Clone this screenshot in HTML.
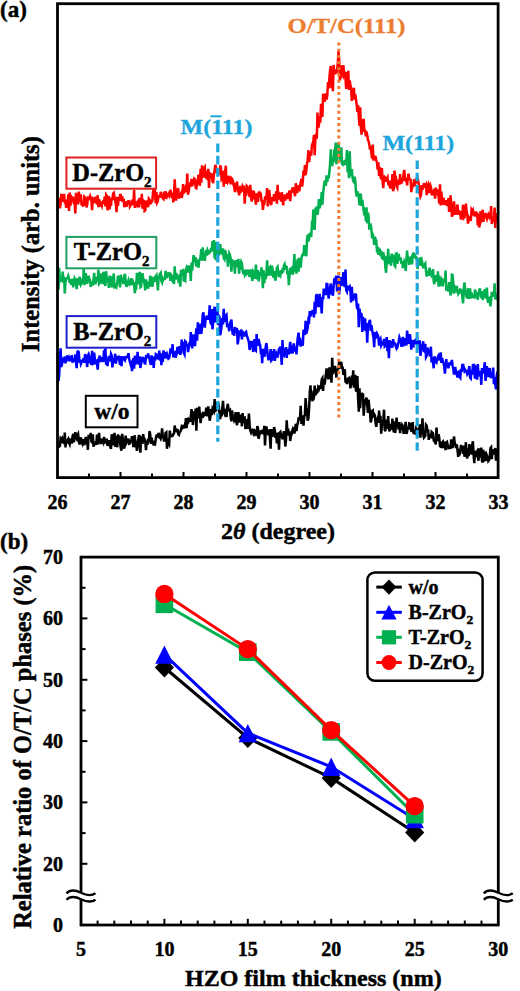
<!DOCTYPE html><html><head><meta charset="utf-8"><style>
html,body{margin:0;padding:0;background:#fff;overflow:hidden;width:520px;height:991px;}
svg{display:block;}
text{font-family:"Liberation Serif",serif;font-weight:bold;stroke:currentColor;stroke-width:0.45px;}
</style></head><body>
<svg width="520" height="991" viewBox="0 0 520 991">
<polyline fill="none" stroke="#000" stroke-width="2.5" stroke-linejoin="miter" points="58.5,440.9 59.2,446.6 59.9,446.0 60.6,438.4 61.3,439.3 62.0,438.3 62.7,443.1 63.4,440.4 64.1,443.9 64.8,432.5 65.5,447.5 66.2,440.2 66.9,443.6 67.6,440.0 68.3,438.9 69.0,442.6 69.7,444.2 70.4,439.7 71.1,439.9 71.8,443.6 72.5,436.8 73.2,433.9 73.9,442.3 74.6,437.6 75.3,432.1 76.0,437.0 76.7,438.5 77.4,435.3 78.1,434.0 78.8,440.8 79.5,444.6 80.2,439.6 80.9,437.3 81.6,442.3 82.3,443.8 83.0,439.3 83.7,443.0 84.4,445.2 85.1,439.7 85.8,437.0 86.5,442.1 87.2,441.7 87.9,449.8 88.6,434.9 89.3,437.7 90.0,436.9 90.7,432.9 91.4,441.2 92.1,442.9 92.8,434.4 93.5,446.7 94.2,444.2 94.9,443.4 95.6,442.4 96.3,444.8 97.0,434.7 97.7,443.3 98.4,443.3 99.1,432.8 99.8,442.1 100.5,439.5 101.2,444.1 101.9,438.7 102.6,440.6 103.3,442.3 104.0,436.9 104.7,443.5 105.4,440.4 106.1,443.1 106.8,438.6 107.5,445.8 108.2,443.7 108.9,440.2 109.6,443.8 110.3,446.7 111.0,449.0 111.7,434.2 112.4,445.1 113.1,443.3 113.8,440.8 114.5,432.8 115.2,446.9 115.9,435.8 116.6,443.9 117.3,447.2 118.0,434.4 118.7,440.1 119.4,435.7 120.1,442.6 120.8,448.3 121.5,450.6 122.2,433.8 122.9,439.1 123.6,444.8 124.3,448.7 125.0,443.6 125.7,435.5 126.4,443.1 127.1,441.8 127.8,441.0 128.5,438.7 129.2,443.7 129.9,443.4 130.6,441.5 131.3,440.9 132.0,436.2 132.7,439.7 133.4,447.1 134.1,440.1 134.8,435.3 135.5,447.5 136.2,443.9 136.9,450.9 137.6,441.7 138.3,439.4 139.0,434.9 139.7,447.2 140.4,452.7 141.1,437.6 141.8,438.3 142.5,443.8 143.2,434.1 143.9,439.8 144.6,439.4 145.3,441.8 146.0,450.2 146.7,440.9 147.4,444.9 148.1,438.9 148.8,442.1 149.5,431.1 150.2,434.1 150.9,443.9 151.6,437.5 152.3,442.5 153.0,442.2 153.7,445.5 154.4,443.0 155.1,443.7 155.8,438.4 156.5,435.5 157.2,435.2 157.9,436.1 158.6,432.9 159.3,435.4 160.0,437.2 160.7,438.6 161.4,435.7 162.1,428.3 162.8,436.2 163.5,437.7 164.2,441.4 164.9,438.9 165.6,433.0 166.3,432.4 167.0,448.8 167.7,438.7 168.4,443.4 169.1,444.5 169.8,430.6 170.5,435.9 171.2,436.0 171.9,436.2 172.6,435.8 173.3,434.0 174.0,433.6 174.7,425.5 175.4,431.5 176.1,428.5 176.8,432.3 177.5,429.2 178.2,434.1 178.9,434.8 179.6,432.1 180.3,431.7 181.0,429.9 181.7,426.6 182.4,427.3 183.1,425.0 183.8,428.5 184.5,426.0 185.2,428.1 185.9,418.0 186.6,428.2 187.3,419.4 188.0,418.8 188.7,420.7 189.4,418.2 190.1,421.8 190.8,417.0 191.5,409.2 192.2,414.6 192.9,425.0 193.6,418.1 194.3,411.5 195.0,417.0 195.7,408.5 196.4,430.8 197.1,407.7 197.8,417.5 198.5,417.3 199.2,406.6 199.9,415.1 200.6,423.2 201.3,415.7 202.0,414.5 202.7,417.9 203.4,413.8 204.1,414.5 204.8,412.0 205.5,415.8 206.2,407.6 206.9,416.4 207.6,409.6 208.3,406.4 209.0,413.9 209.7,420.7 210.4,416.7 211.1,409.0 211.8,415.2 212.5,409.1 213.2,410.7 213.9,411.7 214.6,399.1 215.3,412.1 216.0,405.6 216.7,407.2 217.4,403.1 218.1,402.7 218.8,405.6 219.5,414.8 220.2,419.2 220.9,410.4 221.6,416.3 222.3,408.1 223.0,400.8 223.7,411.7 224.4,413.3 225.1,408.9 225.8,412.8 226.5,417.0 227.2,406.9 227.9,403.8 228.6,410.4 229.3,410.6 230.0,410.0 230.7,417.2 231.4,421.4 232.1,410.5 232.8,416.6 233.5,418.1 234.2,420.6 234.9,419.3 235.6,412.1 236.3,421.7 237.0,425.2 237.7,419.2 238.4,412.1 239.1,418.7 239.8,422.4 240.5,418.5 241.2,414.7 241.9,426.3 242.6,413.1 243.3,422.8 244.0,421.1 244.7,416.2 245.4,429.1 246.1,425.7 246.8,419.1 247.5,428.7 248.2,424.6 248.9,413.5 249.6,425.1 250.3,430.4 251.0,432.4 251.7,430.3 252.4,429.9 253.1,432.2 253.8,429.1 254.5,436.0 255.2,431.3 255.9,432.2 256.6,433.6 257.3,426.1 258.0,428.0 258.7,438.9 259.4,434.9 260.1,430.7 260.8,433.9 261.5,430.1 262.2,434.0 262.9,429.7 263.6,434.4 264.3,425.8 265.0,445.4 265.7,431.2 266.4,426.4 267.1,433.0 267.8,432.5 268.5,435.2 269.2,429.3 269.9,436.7 270.6,448.6 271.3,429.1 272.0,436.8 272.7,433.8 273.4,436.3 274.1,427.0 274.8,430.2 275.5,437.8 276.2,435.6 276.9,443.5 277.6,432.7 278.3,436.9 279.0,449.7 279.7,432.7 280.4,431.9 281.1,435.7 281.8,435.3 282.5,439.2 283.2,435.5 283.9,431.1 284.6,435.3 285.3,446.5 286.0,439.8 286.7,420.2 287.4,432.4 288.1,428.6 288.8,435.5 289.5,431.4 290.2,441.0 290.9,435.5 291.6,434.5 292.3,430.4 293.0,428.5 293.7,429.6 294.4,433.5 295.1,429.0 295.8,423.9 296.5,431.2 297.2,425.0 297.9,422.9 298.6,418.6 299.3,418.9 300.0,417.8 300.7,405.7 301.4,424.0 302.1,420.5 302.8,415.4 303.5,425.7 304.2,416.6 304.9,415.1 305.6,398.1 306.3,407.9 307.0,409.9 307.7,420.6 308.4,418.6 309.1,408.6 309.8,392.2 310.5,385.3 311.2,400.2 311.9,396.6 312.6,401.2 313.3,394.5 314.0,395.9 314.7,385.6 315.4,395.6 316.1,389.3 316.8,392.6 317.5,392.0 318.2,387.5 318.9,388.8 319.6,385.6 320.3,389.0 321.0,386.5 321.7,379.4 322.4,378.2 323.1,391.0 323.8,379.1 324.5,384.6 325.2,380.2 325.9,374.0 326.6,368.4 327.3,377.2 328.0,377.5 328.7,379.2 329.4,367.4 330.1,370.9 330.8,373.1 331.5,382.6 332.2,357.8 332.9,374.0 333.6,367.3 334.3,372.4 335.0,366.0 335.7,370.7 336.4,377.5 337.1,369.5 337.8,369.4 338.5,368.5 339.2,361.0 339.9,368.5 340.6,364.6 341.3,362.0 342.0,367.8 342.7,367.8 343.4,374.9 344.1,371.1 344.8,369.2 345.5,382.5 346.2,381.0 346.9,384.0 347.6,381.3 348.3,378.4 349.0,377.9 349.7,380.1 350.4,388.3 351.1,384.2 351.8,375.7 352.5,384.9 353.2,370.2 353.9,387.7 354.6,380.6 355.3,374.7 356.0,390.6 356.7,390.8 357.4,376.1 358.1,398.3 358.8,411.7 359.5,388.4 360.2,408.1 360.9,394.9 361.6,394.3 362.3,399.4 363.0,393.2 363.7,415.6 364.4,405.5 365.1,399.5 365.8,401.8 366.5,397.5 367.2,404.9 367.9,412.9 368.6,399.7 369.3,407.6 370.0,411.8 370.7,422.4 371.4,419.8 372.1,411.1 372.8,410.5 373.5,417.6 374.2,414.1 374.9,415.3 375.6,423.1 376.3,426.8 377.0,420.0 377.7,418.2 378.4,422.7 379.1,410.6 379.8,420.7 380.5,415.8 381.2,433.6 381.9,425.4 382.6,422.7 383.3,421.2 384.0,409.7 384.7,429.6 385.4,431.2 386.1,419.5 386.8,426.9 387.5,427.3 388.2,416.1 388.9,428.9 389.6,431.3 390.3,426.0 391.0,425.0 391.7,429.7 392.4,418.5 393.1,427.2 393.8,432.4 394.5,421.5 395.2,432.9 395.9,425.9 396.6,417.7 397.3,427.5 398.0,423.2 398.7,429.6 399.4,422.2 400.1,433.2 400.8,424.3 401.5,429.8 402.2,425.1 402.9,426.4 403.6,433.9 404.3,429.1 405.0,426.0 405.7,421.9 406.4,433.9 407.1,431.9 407.8,426.7 408.5,429.7 409.2,423.4 409.9,423.6 410.6,424.6 411.3,430.6 412.0,430.4 412.7,422.0 413.4,432.7 414.1,433.1 414.8,430.1 415.5,434.5 416.2,428.2 416.9,429.2 417.6,432.3 418.3,429.9 419.0,434.2 419.7,424.3 420.4,437.6 421.1,426.9 421.8,430.1 422.5,418.3 423.2,434.2 423.9,437.7 424.6,436.8 425.3,436.0 426.0,424.8 426.7,425.7 427.4,431.2 428.1,429.4 428.8,439.9 429.5,435.8 430.2,435.3 430.9,438.3 431.6,431.9 432.3,432.6 433.0,433.3 433.7,440.3 434.4,441.5 435.1,441.7 435.8,444.4 436.5,427.5 437.2,437.3 437.9,441.0 438.6,434.3 439.3,438.5 440.0,446.0 440.7,446.8 441.4,447.0 442.1,442.5 442.8,441.7 443.5,448.0 444.2,441.6 444.9,445.2 445.6,450.1 446.3,442.6 447.0,441.9 447.7,445.0 448.4,448.1 449.1,447.9 449.8,446.7 450.5,448.9 451.2,439.4 451.9,443.1 452.6,448.1 453.3,443.5 454.0,436.5 454.7,442.9 455.4,444.5 456.1,448.0 456.8,444.4 457.5,450.2 458.2,456.9 458.9,448.8 459.6,455.3 460.3,451.1 461.0,445.0 461.7,449.0 462.4,446.0 463.1,453.9 463.8,445.6 464.5,456.7 465.2,453.6 465.9,442.2 466.6,454.8 467.3,458.4 468.0,448.2 468.7,456.2 469.4,444.1 470.1,453.3 470.8,445.0 471.5,454.6 472.2,444.8 472.9,441.2 473.6,454.7 474.3,463.2 475.0,450.7 475.7,457.0 476.4,453.9 477.1,452.0 477.8,456.2 478.5,460.8 479.2,448.2 479.9,456.2 480.6,455.3 481.3,447.5 482.0,461.0 482.7,462.5 483.4,449.8 484.1,461.7 484.8,454.3 485.5,453.4 486.2,460.8 486.9,455.3 487.6,457.0 488.3,461.0 489.0,460.1 489.7,458.4 490.4,448.3 491.1,447.4 491.8,459.1 492.5,450.0 493.2,454.6 493.9,449.1 494.6,452.9 495.3,448.0 496.0,460.6 496.7,448.9 497.4,452.8"/>
<polyline fill="none" stroke="#0000ff" stroke-width="2.5" stroke-linejoin="miter" points="58.5,381.0 59.2,375.0 59.9,357.2 60.6,348.3 61.3,366.9 62.0,364.0 62.7,357.6 63.4,362.4 64.1,360.2 64.8,356.6 65.5,363.3 66.2,357.6 66.9,357.6 67.6,355.5 68.3,361.0 69.0,358.6 69.7,361.4 70.4,356.3 71.1,359.6 71.8,355.1 72.5,362.7 73.2,359.8 73.9,360.5 74.6,360.8 75.3,354.5 76.0,362.5 76.7,368.1 77.4,351.8 78.1,351.4 78.8,352.3 79.5,362.7 80.2,359.6 80.9,363.8 81.6,362.2 82.3,360.8 83.0,360.3 83.7,358.2 84.4,362.8 85.1,354.0 85.8,357.1 86.5,360.1 87.2,367.0 87.9,355.6 88.6,354.2 89.3,356.5 90.0,363.3 90.7,358.0 91.4,364.9 92.1,350.7 92.8,364.0 93.5,363.6 94.2,352.7 94.9,359.7 95.6,364.4 96.3,359.4 97.0,363.4 97.7,369.6 98.4,360.2 99.1,357.8 99.8,355.6 100.5,361.9 101.2,358.2 101.9,358.3 102.6,358.6 103.3,362.0 104.0,350.2 104.7,352.4 105.4,348.4 106.1,364.6 106.8,359.6 107.5,366.0 108.2,359.3 108.9,356.1 109.6,361.5 110.3,359.1 111.0,353.9 111.7,355.5 112.4,367.4 113.1,361.1 113.8,361.4 114.5,358.4 115.2,353.8 115.9,363.6 116.6,359.2 117.3,356.3 118.0,359.1 118.7,355.7 119.4,360.6 120.1,364.8 120.8,356.1 121.5,366.2 122.2,356.9 122.9,360.6 123.6,356.2 124.3,359.0 125.0,360.2 125.7,358.1 126.4,356.9 127.1,357.1 127.8,356.5 128.5,353.2 129.2,359.0 129.9,362.0 130.6,364.3 131.3,363.1 132.0,371.2 132.7,361.7 133.4,358.3 134.1,368.7 134.8,355.7 135.5,364.7 136.2,356.2 136.9,362.1 137.6,351.8 138.3,364.5 139.0,359.9 139.7,356.3 140.4,368.0 141.1,363.8 141.8,360.5 142.5,356.9 143.2,359.9 143.9,359.3 144.6,363.2 145.3,363.4 146.0,356.7 146.7,357.2 147.4,357.1 148.1,353.4 148.8,356.7 149.5,358.8 150.2,362.2 150.9,365.0 151.6,355.3 152.3,361.3 153.0,356.7 153.7,368.0 154.4,358.3 155.1,360.7 155.8,354.1 156.5,354.5 157.2,359.0 157.9,356.3 158.6,359.5 159.3,350.7 160.0,360.7 160.7,353.4 161.4,365.1 162.1,355.8 162.8,361.9 163.5,350.3 164.2,358.5 164.9,352.2 165.6,353.9 166.3,356.0 167.0,354.2 167.7,356.7 168.4,358.7 169.1,358.1 169.8,354.5 170.5,348.4 171.2,350.8 171.9,353.4 172.6,344.2 173.3,357.4 174.0,352.6 174.7,352.3 175.4,357.6 176.1,355.8 176.8,353.2 177.5,347.0 178.2,352.7 178.9,352.4 179.6,346.1 180.3,354.8 181.0,351.8 181.7,339.5 182.4,349.0 183.1,341.9 183.8,353.0 184.5,354.4 185.2,341.2 185.9,341.8 186.6,346.1 187.3,344.0 188.0,352.1 188.7,347.8 189.4,342.3 190.1,346.0 190.8,332.1 191.5,342.7 192.2,348.4 192.9,337.4 193.6,334.6 194.3,340.0 195.0,346.1 195.7,336.2 196.4,328.4 197.1,340.6 197.8,322.4 198.5,333.8 199.2,327.1 199.9,334.0 200.6,323.5 201.3,333.8 202.0,327.1 202.7,315.0 203.4,312.4 204.1,320.1 204.8,327.7 205.5,320.1 206.2,318.5 206.9,315.6 207.6,319.8 208.3,317.2 209.0,316.9 209.7,305.2 210.4,322.4 211.1,323.6 211.8,309.1 212.5,329.3 213.2,320.8 213.9,314.3 214.6,306.7 215.3,321.2 216.0,320.9 216.7,314.8 217.4,308.6 218.1,324.9 218.8,315.8 219.5,316.7 220.2,335.2 220.9,331.6 221.6,325.5 222.3,318.1 223.0,324.4 223.7,308.7 224.4,322.0 225.1,317.7 225.8,315.7 226.5,314.9 227.2,327.1 227.9,325.5 228.6,326.7 229.3,331.2 230.0,323.0 230.7,321.8 231.4,319.7 232.1,328.2 232.8,334.7 233.5,330.8 234.2,335.7 234.9,327.0 235.6,331.2 236.3,330.1 237.0,328.0 237.7,344.4 238.4,339.6 239.1,331.7 239.8,332.1 240.5,336.1 241.2,329.4 241.9,339.5 242.6,331.0 243.3,336.1 244.0,333.2 244.7,336.4 245.4,332.5 246.1,331.8 246.8,335.4 247.5,337.4 248.2,339.8 248.9,342.2 249.6,350.0 250.3,346.9 251.0,340.9 251.7,347.4 252.4,340.9 253.1,352.0 253.8,348.1 254.5,339.2 255.2,350.0 255.9,350.7 256.6,334.0 257.3,343.9 258.0,345.6 258.7,338.9 259.4,343.6 260.1,344.6 260.8,352.0 261.5,351.4 262.2,363.1 262.9,348.9 263.6,356.7 264.3,352.0 265.0,353.3 265.7,346.6 266.4,343.1 267.1,348.8 267.8,356.2 268.5,360.3 269.2,355.7 269.9,355.4 270.6,349.1 271.3,360.6 272.0,359.8 272.7,351.0 273.4,353.5 274.1,349.1 274.8,360.9 275.5,356.0 276.2,353.8 276.9,356.3 277.6,356.6 278.3,352.7 279.0,348.9 279.7,348.9 280.4,346.6 281.1,356.7 281.8,364.8 282.5,340.1 283.2,354.3 283.9,355.2 284.6,348.3 285.3,353.6 286.0,347.1 286.7,357.8 287.4,348.9 288.1,351.9 288.8,354.4 289.5,348.7 290.2,341.8 290.9,347.5 291.6,353.5 292.3,349.0 293.0,350.2 293.7,343.4 294.4,349.0 295.1,351.4 295.8,346.6 296.5,354.5 297.2,342.6 297.9,336.9 298.6,332.6 299.3,345.3 300.0,337.7 300.7,346.7 301.4,340.0 302.1,342.7 302.8,345.6 303.5,329.7 304.2,331.9 304.9,335.0 305.6,320.9 306.3,333.7 307.0,330.8 307.7,327.9 308.4,319.7 309.1,320.8 309.8,311.2 310.5,316.5 311.2,311.8 311.9,314.5 312.6,310.0 313.3,313.3 314.0,317.4 314.7,301.9 315.4,313.9 316.1,296.1 316.8,294.2 317.5,305.3 318.2,305.2 318.9,306.9 319.6,293.8 320.3,302.0 321.0,301.6 321.7,313.5 322.4,297.1 323.1,299.4 323.8,288.7 324.5,292.0 325.2,289.0 325.9,295.2 326.6,284.0 327.3,284.1 328.0,292.0 328.7,298.7 329.4,289.1 330.1,287.9 330.8,283.5 331.5,292.2 332.2,291.5 332.9,295.7 333.6,286.6 334.3,278.3 335.0,280.4 335.7,277.7 336.4,275.9 337.1,291.5 337.8,288.5 338.5,275.5 339.2,294.4 339.9,285.9 340.6,277.2 341.3,286.0 342.0,283.4 342.7,279.2 343.4,272.2 344.1,284.9 344.8,286.8 345.5,269.6 346.2,290.1 346.9,291.5 347.6,285.7 348.3,290.3 349.0,287.3 349.7,286.4 350.4,290.6 351.1,302.4 351.8,286.8 352.5,298.4 353.2,300.5 353.9,295.6 354.6,296.2 355.3,294.3 356.0,294.6 356.7,305.8 357.4,309.2 358.1,303.6 358.8,327.2 359.5,308.6 360.2,314.2 360.9,313.7 361.6,314.3 362.3,332.0 363.0,316.9 363.7,328.6 364.4,329.0 365.1,318.4 365.8,331.1 366.5,323.1 367.2,342.8 367.9,327.1 368.6,325.4 369.3,321.5 370.0,319.9 370.7,331.0 371.4,325.2 372.1,329.9 372.8,333.8 373.5,337.5 374.2,347.1 374.9,332.0 375.6,338.2 376.3,336.3 377.0,333.6 377.7,335.0 378.4,337.1 379.1,345.6 379.8,341.1 380.5,339.5 381.2,345.5 381.9,344.0 382.6,341.6 383.3,344.9 384.0,338.8 384.7,346.4 385.4,345.7 386.1,341.2 386.8,337.1 387.5,351.1 388.2,343.8 388.9,358.1 389.6,340.0 390.3,347.7 391.0,341.1 391.7,344.6 392.4,347.6 393.1,339.2 393.8,342.8 394.5,344.1 395.2,343.9 395.9,346.4 396.6,348.6 397.3,347.6 398.0,344.6 398.7,341.5 399.4,337.5 400.1,339.5 400.8,340.6 401.5,346.8 402.2,341.4 402.9,336.9 403.6,346.5 404.3,339.2 405.0,339.4 405.7,342.0 406.4,345.5 407.1,330.6 407.8,337.2 408.5,343.7 409.2,340.9 409.9,334.2 410.6,339.8 411.3,349.6 412.0,340.0 412.7,346.0 413.4,346.3 414.1,339.8 414.8,344.3 415.5,340.1 416.2,339.9 416.9,337.8 417.6,348.7 418.3,342.8 419.0,342.6 419.7,340.3 420.4,355.8 421.1,350.9 421.8,347.1 422.5,344.9 423.2,341.3 423.9,351.0 424.6,351.6 425.3,343.7 426.0,357.0 426.7,355.6 427.4,347.5 428.1,350.0 428.8,351.1 429.5,354.5 430.2,353.5 430.9,346.7 431.6,362.4 432.3,357.3 433.0,362.4 433.7,368.3 434.4,356.3 435.1,359.4 435.8,361.8 436.5,362.5 437.2,358.5 437.9,356.9 438.6,360.5 439.3,357.0 440.0,358.7 440.7,352.3 441.4,362.8 442.1,358.1 442.8,360.8 443.5,363.4 444.2,365.9 444.9,373.7 445.6,366.2 446.3,359.1 447.0,366.5 447.7,363.5 448.4,368.4 449.1,363.8 449.8,364.0 450.5,363.1 451.2,365.0 451.9,359.9 452.6,365.5 453.3,368.8 454.0,374.7 454.7,368.2 455.4,368.1 456.1,372.6 456.8,374.8 457.5,377.5 458.2,373.1 458.9,370.5 459.6,376.8 460.3,377.8 461.0,368.9 461.7,372.0 462.4,363.8 463.1,369.9 463.8,367.7 464.5,370.9 465.2,369.8 465.9,371.3 466.6,371.5 467.3,374.2 468.0,373.0 468.7,369.5 469.4,366.2 470.1,377.6 470.8,378.4 471.5,370.0 472.2,374.5 472.9,365.1 473.6,365.0 474.3,370.8 475.0,378.6 475.7,367.4 476.4,368.5 477.1,379.6 477.8,364.0 478.5,375.5 479.2,374.9 479.9,371.1 480.6,373.8 481.3,384.8 482.0,368.1 482.7,371.9 483.4,372.3 484.1,367.6 484.8,362.2 485.5,380.9 486.2,374.9 486.9,366.1 487.6,371.0 488.3,376.0 489.0,376.1 489.7,368.0 490.4,374.2 491.1,377.1 491.8,376.9 492.5,377.1 493.2,367.6 493.9,384.1 494.6,377.1 495.3,384.4 496.0,389.4 496.7,376.2 497.4,371.6"/>
<polyline fill="none" stroke="#00b050" stroke-width="2.5" stroke-linejoin="miter" points="58.5,289.6 59.2,267.8 59.9,282.4 60.6,278.1 61.3,278.6 62.0,279.7 62.7,271.7 63.4,279.6 64.1,276.8 64.8,293.4 65.5,281.6 66.2,279.0 66.9,278.2 67.6,277.7 68.3,275.9 69.0,278.9 69.7,282.7 70.4,279.5 71.1,284.8 71.8,278.9 72.5,280.7 73.2,287.4 73.9,283.0 74.6,278.4 75.3,279.8 76.0,283.0 76.7,289.1 77.4,279.4 78.1,279.5 78.8,285.0 79.5,276.7 80.2,279.3 80.9,284.5 81.6,283.2 82.3,281.0 83.0,283.6 83.7,268.1 84.4,285.1 85.1,276.4 85.8,273.2 86.5,281.8 87.2,283.7 87.9,278.6 88.6,275.8 89.3,280.7 90.0,280.4 90.7,286.8 91.4,283.9 92.1,281.5 92.8,285.5 93.5,279.7 94.2,272.8 94.9,283.2 95.6,283.2 96.3,279.6 97.0,277.1 97.7,281.6 98.4,269.5 99.1,283.7 99.8,282.8 100.5,273.3 101.2,280.9 101.9,276.4 102.6,284.1 103.3,271.7 104.0,276.7 104.7,283.9 105.4,285.9 106.1,271.2 106.8,278.6 107.5,282.3 108.2,278.2 108.9,288.0 109.6,275.6 110.3,282.5 111.0,276.3 111.7,287.3 112.4,280.9 113.1,279.4 113.8,273.5 114.5,288.6 115.2,284.5 115.9,284.5 116.6,286.2 117.3,282.8 118.0,275.8 118.7,277.7 119.4,277.7 120.1,287.4 120.8,274.8 121.5,278.7 122.2,280.0 122.9,282.4 123.6,284.0 124.3,275.9 125.0,273.8 125.7,281.5 126.4,286.9 127.1,284.9 127.8,282.5 128.5,280.2 129.2,282.9 129.9,280.6 130.6,285.3 131.3,278.2 132.0,282.3 132.7,281.3 133.4,284.2 134.1,283.7 134.8,293.1 135.5,288.5 136.2,288.5 136.9,272.8 137.6,280.4 138.3,279.2 139.0,284.3 139.7,271.9 140.4,287.2 141.1,286.6 141.8,275.9 142.5,273.3 143.2,277.9 143.9,281.6 144.6,284.2 145.3,290.4 146.0,279.4 146.7,284.4 147.4,281.6 148.1,288.7 148.8,284.0 149.5,286.7 150.2,275.6 150.9,279.5 151.6,276.6 152.3,286.9 153.0,283.0 153.7,278.6 154.4,277.8 155.1,281.9 155.8,276.5 156.5,275.3 157.2,281.6 157.9,290.5 158.6,278.1 159.3,276.6 160.0,273.7 160.7,272.8 161.4,281.1 162.1,282.5 162.8,278.5 163.5,279.8 164.2,278.7 164.9,278.7 165.6,270.9 166.3,275.6 167.0,278.1 167.7,273.9 168.4,273.2 169.1,273.4 169.8,275.5 170.5,280.8 171.2,274.9 171.9,275.9 172.6,280.2 173.3,279.3 174.0,284.0 174.7,266.4 175.4,279.7 176.1,273.1 176.8,275.6 177.5,278.5 178.2,279.3 178.9,283.1 179.6,274.2 180.3,286.7 181.0,271.3 181.7,271.6 182.4,275.6 183.1,268.8 183.8,281.4 184.5,279.9 185.2,280.7 185.9,269.8 186.6,267.7 187.3,269.9 188.0,272.3 188.7,265.5 189.4,269.8 190.1,267.4 190.8,280.9 191.5,262.9 192.2,270.6 192.9,261.7 193.6,255.1 194.3,260.0 195.0,256.9 195.7,262.9 196.4,266.6 197.1,261.6 197.8,263.3 198.5,267.7 199.2,260.1 199.9,259.1 200.6,256.2 201.3,249.0 202.0,260.6 202.7,247.3 203.4,259.2 204.1,255.4 204.8,260.8 205.5,254.2 206.2,249.9 206.9,255.5 207.6,250.3 208.3,252.0 209.0,253.0 209.7,252.0 210.4,251.6 211.1,248.1 211.8,251.3 212.5,241.0 213.2,251.2 213.9,240.0 214.6,257.6 215.3,258.4 216.0,241.8 216.7,253.0 217.4,251.8 218.1,247.3 218.8,255.7 219.5,250.8 220.2,244.2 220.9,252.3 221.6,252.4 222.3,254.7 223.0,248.3 223.7,258.2 224.4,259.3 225.1,250.0 225.8,253.0 226.5,256.0 227.2,254.4 227.9,266.6 228.6,259.2 229.3,253.4 230.0,255.0 230.7,259.2 231.4,271.6 232.1,259.5 232.8,261.5 233.5,263.9 234.2,261.6 234.9,273.7 235.6,260.1 236.3,266.9 237.0,264.5 237.7,267.2 238.4,258.8 239.1,273.8 239.8,264.9 240.5,266.2 241.2,261.9 241.9,263.4 242.6,270.2 243.3,272.7 244.0,272.0 244.7,274.7 245.4,272.6 246.1,269.6 246.8,273.7 247.5,272.8 248.2,269.8 248.9,274.0 249.6,277.0 250.3,273.2 251.0,269.6 251.7,275.0 252.4,281.0 253.1,271.1 253.8,272.0 254.5,272.0 255.2,278.8 255.9,264.5 256.6,275.2 257.3,279.4 258.0,270.2 258.7,281.4 259.4,277.1 260.1,272.2 260.8,275.7 261.5,267.4 262.2,271.9 262.9,288.3 263.6,270.2 264.3,283.2 265.0,273.9 265.7,279.0 266.4,274.4 267.1,260.3 267.8,271.3 268.5,275.7 269.2,268.5 269.9,267.5 270.6,275.6 271.3,270.6 272.0,265.6 272.7,270.3 273.4,277.7 274.1,271.2 274.8,277.9 275.5,280.6 276.2,273.4 276.9,267.7 277.6,266.7 278.3,272.7 279.0,277.0 279.7,273.9 280.4,275.2 281.1,270.3 281.8,273.8 282.5,269.9 283.2,270.5 283.9,265.7 284.6,264.3 285.3,269.4 286.0,266.3 286.7,266.9 287.4,274.7 288.1,270.8 288.8,285.2 289.5,275.6 290.2,267.8 290.9,274.2 291.6,271.8 292.3,266.3 293.0,274.6 293.7,265.0 294.4,254.1 295.1,271.8 295.8,264.0 296.5,273.7 297.2,262.3 297.9,258.8 298.6,271.7 299.3,257.7 300.0,263.3 300.7,267.6 301.4,258.6 302.1,255.5 302.8,254.3 303.5,256.0 304.2,245.1 304.9,250.6 305.6,248.5 306.3,256.3 307.0,239.7 307.7,234.6 308.4,241.9 309.1,233.7 309.8,235.7 310.5,232.9 311.2,237.0 311.9,224.6 312.6,225.9 313.3,209.6 314.0,217.4 314.7,230.0 315.4,210.9 316.1,212.0 316.8,206.4 317.5,214.9 318.2,210.0 318.9,199.1 319.6,208.3 320.3,203.2 321.0,203.7 321.7,192.1 322.4,204.7 323.1,193.5 323.8,187.3 324.5,182.0 325.2,181.1 325.9,185.7 326.6,175.4 327.3,181.9 328.0,175.8 328.7,178.4 329.4,172.0 330.1,163.4 330.8,149.4 331.5,163.7 332.2,166.0 332.9,160.5 333.6,162.2 334.3,150.8 335.0,150.9 335.7,142.5 336.4,164.3 337.1,155.0 337.8,146.5 338.5,142.9 339.2,150.7 339.9,161.5 340.6,155.0 341.3,147.4 342.0,163.6 342.7,164.5 343.4,162.1 344.1,161.5 344.8,165.0 345.5,161.8 346.2,164.6 346.9,150.0 347.6,172.2 348.3,164.6 349.0,178.3 349.7,151.2 350.4,172.1 351.1,176.2 351.8,169.2 352.5,176.8 353.2,181.0 353.9,182.0 354.6,176.6 355.3,180.9 356.0,192.1 356.7,196.5 357.4,191.4 358.1,194.0 358.8,197.5 359.5,205.5 360.2,194.6 360.9,194.8 361.6,205.8 362.3,200.0 363.0,205.1 363.7,211.1 364.4,215.4 365.1,207.7 365.8,221.1 366.5,207.4 367.2,223.3 367.9,212.5 368.6,216.3 369.3,229.6 370.0,225.3 370.7,224.9 371.4,228.9 372.1,238.4 372.8,234.8 373.5,236.8 374.2,244.8 374.9,236.7 375.6,239.6 376.3,240.7 377.0,251.4 377.7,251.7 378.4,254.7 379.1,248.9 379.8,249.6 380.5,256.1 381.2,250.5 381.9,258.1 382.6,258.6 383.3,252.2 384.0,256.5 384.7,257.4 385.4,267.8 386.1,272.7 386.8,259.2 387.5,260.3 388.2,248.9 388.9,262.3 389.6,261.7 390.3,256.4 391.0,265.8 391.7,253.6 392.4,260.4 393.1,262.1 393.8,254.8 394.5,265.5 395.2,266.4 395.9,253.6 396.6,253.4 397.3,263.7 398.0,260.2 398.7,254.0 399.4,258.6 400.1,259.4 400.8,258.9 401.5,263.7 402.2,261.1 402.9,268.0 403.6,265.7 404.3,261.7 405.0,263.5 405.7,270.8 406.4,261.0 407.1,250.5 407.8,261.3 408.5,257.0 409.2,264.9 409.9,256.7 410.6,258.8 411.3,257.5 412.0,264.5 412.7,256.3 413.4,252.4 414.1,256.8 414.8,253.6 415.5,257.6 416.2,257.5 416.9,259.7 417.6,269.2 418.3,257.8 419.0,260.9 419.7,260.5 420.4,265.8 421.1,257.0 421.8,260.3 422.5,264.4 423.2,268.2 423.9,266.0 424.6,264.4 425.3,263.4 426.0,271.1 426.7,276.5 427.4,271.7 428.1,271.7 428.8,275.8 429.5,267.7 430.2,271.5 430.9,272.2 431.6,275.5 432.3,274.4 433.0,269.1 433.7,281.0 434.4,284.2 435.1,275.2 435.8,278.9 436.5,278.8 437.2,281.8 437.9,271.4 438.6,286.7 439.3,275.3 440.0,286.0 440.7,280.9 441.4,279.2 442.1,280.9 442.8,286.3 443.5,278.5 444.2,281.3 444.9,281.3 445.6,270.6 446.3,290.7 447.0,287.8 447.7,285.5 448.4,291.5 449.1,282.2 449.8,286.8 450.5,295.4 451.2,292.2 451.9,274.7 452.6,275.0 453.3,283.8 454.0,293.6 454.7,286.9 455.4,288.3 456.1,292.3 456.8,285.8 457.5,291.0 458.2,293.9 458.9,292.7 459.6,292.6 460.3,288.4 461.0,293.5 461.7,289.5 462.4,297.4 463.1,303.3 463.8,288.6 464.5,282.3 465.2,290.3 465.9,294.0 466.6,297.2 467.3,297.5 468.0,289.3 468.7,289.5 469.4,298.8 470.1,288.4 470.8,298.3 471.5,292.5 472.2,297.0 472.9,296.8 473.6,297.2 474.3,297.5 475.0,289.5 475.7,295.3 476.4,294.2 477.1,296.8 477.8,299.7 478.5,293.1 479.2,291.2 479.9,288.4 480.6,293.2 481.3,298.0 482.0,291.1 482.7,299.9 483.4,296.2 484.1,294.0 484.8,289.1 485.5,296.2 486.2,298.3 486.9,287.5 487.6,300.6 488.3,302.7 489.0,298.3 489.7,297.8 490.4,306.3 491.1,301.2 491.8,291.9 492.5,295.8 493.2,295.3 493.9,295.4 494.6,283.4 495.3,299.5 496.0,293.5 496.7,297.1 497.4,295.8"/>
<polyline fill="none" stroke="#ff0000" stroke-width="2.5" stroke-linejoin="miter" points="58.5,198.1 59.2,200.2 59.9,208.3 60.6,203.9 61.3,193.8 62.0,201.0 62.7,198.3 63.4,201.7 64.1,193.9 64.8,202.1 65.5,202.0 66.2,207.9 66.9,202.4 67.6,203.3 68.3,194.4 69.0,210.9 69.7,192.5 70.4,205.9 71.1,199.5 71.8,197.1 72.5,198.1 73.2,198.0 73.9,204.2 74.6,200.5 75.3,213.4 76.0,192.9 76.7,201.0 77.4,197.1 78.1,204.4 78.8,191.6 79.5,199.5 80.2,201.9 80.9,194.4 81.6,205.4 82.3,201.8 83.0,205.5 83.7,205.2 84.4,196.7 85.1,197.5 85.8,200.1 86.5,207.3 87.2,204.8 87.9,197.9 88.6,198.3 89.3,197.5 90.0,196.1 90.7,199.9 91.4,200.4 92.1,210.1 92.8,198.8 93.5,199.7 94.2,203.0 94.9,196.8 95.6,199.4 96.3,201.1 97.0,204.4 97.7,195.2 98.4,207.1 99.1,199.4 99.8,201.8 100.5,204.8 101.2,204.0 101.9,205.8 102.6,201.8 103.3,201.0 104.0,203.8 104.7,196.7 105.4,206.5 106.1,194.6 106.8,195.6 107.5,210.3 108.2,200.6 108.9,196.0 109.6,209.5 110.3,199.8 111.0,206.0 111.7,197.6 112.4,200.2 113.1,193.8 113.8,192.9 114.5,197.0 115.2,201.0 115.9,204.9 116.6,212.2 117.3,196.8 118.0,205.9 118.7,198.8 119.4,200.8 120.1,194.9 120.8,194.9 121.5,198.1 122.2,196.2 122.9,201.6 123.6,198.5 124.3,207.2 125.0,202.3 125.7,202.4 126.4,206.7 127.1,204.0 127.8,201.5 128.5,201.3 129.2,201.2 129.9,206.5 130.6,205.3 131.3,203.4 132.0,205.4 132.7,199.4 133.4,204.1 134.1,189.9 134.8,207.9 135.5,202.3 136.2,202.7 136.9,204.6 137.6,201.9 138.3,200.8 139.0,207.3 139.7,202.5 140.4,197.8 141.1,203.6 141.8,193.8 142.5,208.7 143.2,200.3 143.9,201.0 144.6,210.8 145.3,210.1 146.0,200.7 146.7,202.8 147.4,204.7 148.1,207.2 148.8,198.8 149.5,199.8 150.2,204.5 150.9,200.0 151.6,202.0 152.3,201.1 153.0,192.9 153.7,194.0 154.4,185.6 155.1,196.3 155.8,203.4 156.5,191.9 157.2,202.5 157.9,201.2 158.6,196.2 159.3,196.2 160.0,196.4 160.7,191.9 161.4,194.4 162.1,195.4 162.8,198.3 163.5,199.0 164.2,191.7 164.9,198.9 165.6,191.3 166.3,194.0 167.0,196.3 167.7,194.4 168.4,193.7 169.1,195.4 169.8,191.4 170.5,190.8 171.2,192.8 171.9,198.1 172.6,193.0 173.3,202.3 174.0,194.2 174.7,179.4 175.4,190.8 176.1,200.6 176.8,192.7 177.5,190.4 178.2,188.2 178.9,198.5 179.6,196.8 180.3,195.0 181.0,193.4 181.7,197.9 182.4,194.5 183.1,184.2 183.8,193.4 184.5,190.1 185.2,188.3 185.9,192.2 186.6,188.2 187.3,173.5 188.0,194.8 188.7,191.8 189.4,185.8 190.1,184.1 190.8,186.6 191.5,178.8 192.2,186.2 192.9,183.1 193.6,182.1 194.3,178.8 195.0,179.6 195.7,187.8 196.4,188.2 197.1,183.2 197.8,179.7 198.5,174.7 199.2,182.0 199.9,185.8 200.6,168.9 201.3,182.8 202.0,165.3 202.7,174.2 203.4,177.6 204.1,168.1 204.8,167.0 205.5,175.4 206.2,178.6 206.9,171.1 207.6,180.2 208.3,168.8 209.0,187.9 209.7,173.1 210.4,173.5 211.1,175.3 211.8,173.6 212.5,181.4 213.2,183.1 213.9,174.2 214.6,170.2 215.3,164.9 216.0,167.3 216.7,171.6 217.4,171.2 218.1,171.7 218.8,172.1 219.5,174.9 220.2,165.4 220.9,167.3 221.6,178.8 222.3,177.5 223.0,170.8 223.7,186.8 224.4,170.8 225.1,172.3 225.8,165.7 226.5,183.9 227.2,175.9 227.9,181.8 228.6,180.4 229.3,177.6 230.0,178.4 230.7,184.4 231.4,178.1 232.1,178.9 232.8,180.7 233.5,185.2 234.2,186.5 234.9,192.2 235.6,182.9 236.3,190.3 237.0,181.5 237.7,188.4 238.4,186.8 239.1,195.4 239.8,190.6 240.5,185.9 241.2,191.3 241.9,190.6 242.6,186.5 243.3,188.2 244.0,185.5 244.7,203.8 245.4,191.5 246.1,196.0 246.8,186.0 247.5,186.8 248.2,191.7 248.9,192.1 249.6,197.1 250.3,184.7 251.0,196.6 251.7,201.6 252.4,190.4 253.1,199.5 253.8,191.0 254.5,197.6 255.2,198.0 255.9,204.6 256.6,193.3 257.3,197.5 258.0,201.8 258.7,191.5 259.4,197.1 260.1,193.2 260.8,194.1 261.5,200.7 262.2,201.0 262.9,209.9 263.6,204.4 264.3,204.1 265.0,197.5 265.7,197.0 266.4,199.1 267.1,188.0 267.8,206.5 268.5,195.8 269.2,189.8 269.9,197.0 270.6,203.2 271.3,204.9 272.0,197.2 272.7,201.0 273.4,198.6 274.1,194.1 274.8,199.5 275.5,198.8 276.2,191.4 276.9,203.7 277.6,184.8 278.3,199.5 279.0,193.4 279.7,194.5 280.4,194.9 281.1,201.5 281.8,192.2 282.5,197.1 283.2,205.3 283.9,194.6 284.6,197.6 285.3,200.7 286.0,194.4 286.7,198.9 287.4,193.0 288.1,199.0 288.8,195.5 289.5,190.3 290.2,201.1 290.9,193.4 291.6,192.0 292.3,188.4 293.0,188.2 293.7,191.5 294.4,192.3 295.1,196.3 295.8,183.2 296.5,186.6 297.2,193.1 297.9,186.8 298.6,186.6 299.3,191.4 300.0,185.4 300.7,182.9 301.4,178.8 302.1,186.6 302.8,181.4 303.5,170.6 304.2,175.7 304.9,165.2 305.6,175.0 306.3,170.5 307.0,163.8 307.7,160.2 308.4,150.2 309.1,162.2 309.8,155.0 310.5,151.8 311.2,155.6 311.9,145.5 312.6,143.8 313.3,141.0 314.0,135.0 314.7,155.3 315.4,137.3 316.1,133.7 316.8,138.7 317.5,112.6 318.2,127.6 318.9,125.2 319.6,116.3 320.3,122.7 321.0,103.9 321.7,114.1 322.4,117.0 323.1,93.8 323.8,95.9 324.5,101.6 325.2,99.8 325.9,93.4 326.6,99.6 327.3,95.0 328.0,82.0 328.7,88.4 329.4,78.0 330.1,70.3 330.8,66.0 331.5,88.2 332.2,78.2 332.9,91.2 333.6,65.0 334.3,71.1 335.0,74.2 335.7,69.8 336.4,73.5 337.1,70.0 337.8,63.6 338.5,50.9 339.2,60.9 339.9,80.3 340.6,73.4 341.3,78.3 342.0,65.2 342.7,69.1 343.4,65.3 344.1,75.5 344.8,74.2 345.5,78.3 346.2,89.0 346.9,72.0 347.6,84.5 348.3,70.8 349.0,89.9 349.7,80.4 350.4,84.8 351.1,88.4 351.8,100.9 352.5,90.5 353.2,90.4 353.9,87.8 354.6,99.8 355.3,94.4 356.0,99.2 356.7,104.8 357.4,111.8 358.1,105.0 358.8,116.5 359.5,126.0 360.2,107.2 360.9,127.6 361.6,134.7 362.3,119.4 363.0,131.9 363.7,118.8 364.4,131.6 365.1,129.6 365.8,136.3 366.5,131.5 367.2,134.9 367.9,139.9 368.6,141.1 369.3,144.4 370.0,149.6 370.7,146.1 371.4,153.4 372.1,158.7 372.8,144.6 373.5,160.6 374.2,157.0 374.9,156.7 375.6,156.8 376.3,160.7 377.0,162.5 377.7,169.7 378.4,162.2 379.1,175.9 379.8,167.1 380.5,176.2 381.2,179.3 381.9,168.0 382.6,181.2 383.3,188.1 384.0,175.3 384.7,181.7 385.4,178.6 386.1,179.9 386.8,178.7 387.5,177.3 388.2,183.8 388.9,184.9 389.6,180.5 390.3,188.5 391.0,186.5 391.7,184.7 392.4,174.0 393.1,191.3 393.8,188.4 394.5,170.6 395.2,176.1 395.9,176.9 396.6,186.4 397.3,187.8 398.0,179.7 398.7,182.4 399.4,184.6 400.1,174.1 400.8,183.7 401.5,178.9 402.2,181.3 402.9,179.9 403.6,173.8 404.3,169.9 405.0,179.9 405.7,180.5 406.4,178.5 407.1,185.5 407.8,178.2 408.5,173.8 409.2,178.4 409.9,179.4 410.6,179.7 411.3,192.1 412.0,183.3 412.7,186.2 413.4,184.1 414.1,179.3 414.8,186.4 415.5,180.0 416.2,183.0 416.9,177.0 417.6,183.1 418.3,181.3 419.0,185.3 419.7,193.2 420.4,196.5 421.1,194.7 421.8,185.0 422.5,189.8 423.2,187.1 423.9,183.3 424.6,186.5 425.3,186.0 426.0,184.7 426.7,195.2 427.4,186.0 428.1,184.5 428.8,193.2 429.5,186.7 430.2,184.9 430.9,186.9 431.6,194.1 432.3,194.0 433.0,194.1 433.7,190.8 434.4,189.1 435.1,198.6 435.8,187.6 436.5,194.3 437.2,189.4 437.9,194.5 438.6,196.4 439.3,203.7 440.0,184.4 440.7,205.5 441.4,191.5 442.1,201.5 442.8,204.6 443.5,197.7 444.2,201.5 444.9,204.9 445.6,202.5 446.3,200.1 447.0,204.9 447.7,205.1 448.4,198.0 449.1,211.9 449.8,207.1 450.5,195.3 451.2,203.3 451.9,215.6 452.6,215.4 453.3,209.9 454.0,201.4 454.7,208.6 455.4,214.8 456.1,212.1 456.8,209.0 457.5,204.5 458.2,214.8 458.9,210.3 459.6,213.0 460.3,214.0 461.0,219.5 461.7,213.1 462.4,213.7 463.1,204.7 463.8,218.1 464.5,217.3 465.2,213.5 465.9,203.5 466.6,211.3 467.3,214.4 468.0,223.6 468.7,217.0 469.4,218.1 470.1,218.4 470.8,220.8 471.5,210.0 472.2,211.4 472.9,210.1 473.6,214.3 474.3,214.1 475.0,216.3 475.7,211.4 476.4,216.4 477.1,212.2 477.8,225.5 478.5,213.8 479.2,227.5 479.9,223.5 480.6,211.0 481.3,220.6 482.0,219.1 482.7,209.7 483.4,221.8 484.1,216.2 484.8,218.2 485.5,213.0 486.2,216.5 486.9,218.7 487.6,216.1 488.3,214.3 489.0,216.3 489.7,212.8 490.4,218.7 491.1,206.0 491.8,224.0 492.5,217.8 493.2,219.7 493.9,221.4 494.6,207.5 495.3,227.9 496.0,213.0 496.7,220.1 497.4,219.5"/>
<line x1="217.8" y1="143.6" x2="217.8" y2="441.8" stroke="#1ea5dc" stroke-width="3.2" stroke-dasharray="8.6 3.66"/>
<line x1="417.2" y1="160.4" x2="417.2" y2="450.8" stroke="#1ea5dc" stroke-width="3.2" stroke-dasharray="8.6 3.66"/>
<line x1="338.8" y1="42.5" x2="338.8" y2="418.5" stroke="#ed7d31" stroke-width="3" stroke-dasharray="3 3.2"/>
<rect x="57.5" y="3.7" width="440.6" height="473.9" fill="none" stroke="#000" stroke-width="2.8"/>
<line x1="89.0" y1="473.4" x2="89.0" y2="477" stroke="#000" stroke-width="2"/>
<line x1="120.5" y1="472.0" x2="120.5" y2="477" stroke="#000" stroke-width="2"/>
<line x1="152.0" y1="473.4" x2="152.0" y2="477" stroke="#000" stroke-width="2"/>
<line x1="183.5" y1="472.0" x2="183.5" y2="477" stroke="#000" stroke-width="2"/>
<line x1="215.0" y1="473.4" x2="215.0" y2="477" stroke="#000" stroke-width="2"/>
<line x1="246.5" y1="472.0" x2="246.5" y2="477" stroke="#000" stroke-width="2"/>
<line x1="278.0" y1="473.4" x2="278.0" y2="477" stroke="#000" stroke-width="2"/>
<line x1="309.5" y1="472.0" x2="309.5" y2="477" stroke="#000" stroke-width="2"/>
<line x1="341.0" y1="473.4" x2="341.0" y2="477" stroke="#000" stroke-width="2"/>
<line x1="372.5" y1="472.0" x2="372.5" y2="477" stroke="#000" stroke-width="2"/>
<line x1="404.0" y1="473.4" x2="404.0" y2="477" stroke="#000" stroke-width="2"/>
<line x1="435.5" y1="472.0" x2="435.5" y2="477" stroke="#000" stroke-width="2"/>
<line x1="467.0" y1="473.4" x2="467.0" y2="477" stroke="#000" stroke-width="2"/>
<text x="57.5" y="509" font-size="20" text-anchor="middle">26</text>
<text x="120.5" y="509" font-size="20" text-anchor="middle">27</text>
<text x="183.5" y="509" font-size="20" text-anchor="middle">28</text>
<text x="246.5" y="509" font-size="20" text-anchor="middle">29</text>
<text x="309.5" y="509" font-size="20" text-anchor="middle">30</text>
<text x="372.5" y="509" font-size="20" text-anchor="middle">31</text>
<text x="435.5" y="509" font-size="20" text-anchor="middle">32</text>
<text x="498.5" y="509" font-size="20" text-anchor="middle">33</text>
<text x="278" y="538.8" font-size="24" text-anchor="middle">2<tspan font-style="italic">θ</tspan> (degree)</text>
<text x="0" y="16.6" font-size="23">(a)</text>
<text transform="translate(39.0,244.1) rotate(-90)" font-size="24.5" text-anchor="middle">Intensity (arb. units)</text>
<text transform="translate(346.5,32.9) scale(1.175,1)" font-size="21" fill="#ed7d31" style="color:#ed7d31;stroke-width:0.3px" text-anchor="middle">O/T/C(111)</text>
<text transform="translate(216.5,134.3) scale(1.18,1)" font-size="20.3" fill="#1ea5dc" style="color:#1ea5dc;stroke-width:0.3px" text-anchor="middle">M(111)</text>
<line x1="210.4" y1="116.3" x2="221.6" y2="116.3" stroke="#1ea5dc" stroke-width="2"/>
<text transform="translate(418.4,149.9) scale(1.18,1)" font-size="20.3" fill="#1ea5dc" style="color:#1ea5dc;stroke-width:0.3px" text-anchor="middle">M(111)</text>
<rect x="66.4" y="157.5" width="89.7" height="31.2" fill="#fff" stroke="#e02020" stroke-width="2"/>
<text x="72.3" y="180.5" font-size="24.4">D-ZrO<tspan font-size="15" dy="6.5">2</tspan></text>
<rect x="66.4" y="236.9" width="89.9" height="31.4" fill="#fff" stroke="#20a060" stroke-width="2"/>
<text x="73.7" y="259.8" font-size="24.4">T-ZrO<tspan font-size="15" dy="6.5">2</tspan></text>
<rect x="66.6" y="316.1" width="89.7" height="31.6" fill="#fff" stroke="#2020d0" stroke-width="2"/>
<text x="73.3" y="339.8" font-size="24.4">B-ZrO<tspan font-size="15" dy="6.5">2</tspan></text>
<rect x="85.8" y="395.8" width="51.7" height="31.5" fill="#fff" stroke="#000" stroke-width="2"/>
<text x="94.3" y="418.5" font-size="23.5">w/o</text>
<line x1="81" y1="863.8" x2="87.4" y2="863.8" stroke="#000" stroke-width="2"/>
<line x1="81" y1="833.1" x2="85.6" y2="833.1" stroke="#000" stroke-width="2"/>
<line x1="81" y1="802.4" x2="87.4" y2="802.4" stroke="#000" stroke-width="2"/>
<line x1="81" y1="771.8" x2="85.6" y2="771.8" stroke="#000" stroke-width="2"/>
<line x1="81" y1="741.1" x2="87.4" y2="741.1" stroke="#000" stroke-width="2"/>
<line x1="81" y1="710.4" x2="85.6" y2="710.4" stroke="#000" stroke-width="2"/>
<line x1="81" y1="679.8" x2="87.4" y2="679.8" stroke="#000" stroke-width="2"/>
<line x1="81" y1="649.1" x2="85.6" y2="649.1" stroke="#000" stroke-width="2"/>
<line x1="81" y1="618.4" x2="87.4" y2="618.4" stroke="#000" stroke-width="2"/>
<line x1="81" y1="587.8" x2="85.6" y2="587.8" stroke="#000" stroke-width="2"/>
<line x1="97.6" y1="920.6" x2="97.6" y2="925" stroke="#000" stroke-width="2"/>
<line x1="114.3" y1="920.6" x2="114.3" y2="925" stroke="#000" stroke-width="2"/>
<line x1="131.0" y1="920.6" x2="131.0" y2="925" stroke="#000" stroke-width="2"/>
<line x1="147.7" y1="920.6" x2="147.7" y2="925" stroke="#000" stroke-width="2"/>
<line x1="164.4" y1="918.8" x2="164.4" y2="925" stroke="#000" stroke-width="2"/>
<line x1="181.0" y1="920.6" x2="181.0" y2="925" stroke="#000" stroke-width="2"/>
<line x1="197.7" y1="920.6" x2="197.7" y2="925" stroke="#000" stroke-width="2"/>
<line x1="214.4" y1="920.6" x2="214.4" y2="925" stroke="#000" stroke-width="2"/>
<line x1="231.1" y1="920.6" x2="231.1" y2="925" stroke="#000" stroke-width="2"/>
<line x1="247.8" y1="918.8" x2="247.8" y2="925" stroke="#000" stroke-width="2"/>
<line x1="264.5" y1="920.6" x2="264.5" y2="925" stroke="#000" stroke-width="2"/>
<line x1="281.2" y1="920.6" x2="281.2" y2="925" stroke="#000" stroke-width="2"/>
<line x1="297.9" y1="920.6" x2="297.9" y2="925" stroke="#000" stroke-width="2"/>
<line x1="314.6" y1="920.6" x2="314.6" y2="925" stroke="#000" stroke-width="2"/>
<line x1="331.2" y1="918.8" x2="331.2" y2="925" stroke="#000" stroke-width="2"/>
<line x1="347.9" y1="920.6" x2="347.9" y2="925" stroke="#000" stroke-width="2"/>
<line x1="364.6" y1="920.6" x2="364.6" y2="925" stroke="#000" stroke-width="2"/>
<line x1="381.3" y1="920.6" x2="381.3" y2="925" stroke="#000" stroke-width="2"/>
<line x1="398.0" y1="920.6" x2="398.0" y2="925" stroke="#000" stroke-width="2"/>
<line x1="414.7" y1="918.8" x2="414.7" y2="925" stroke="#000" stroke-width="2"/>
<line x1="431.4" y1="920.6" x2="431.4" y2="925" stroke="#000" stroke-width="2"/>
<line x1="448.1" y1="920.6" x2="448.1" y2="925" stroke="#000" stroke-width="2"/>
<line x1="464.8" y1="920.6" x2="464.8" y2="925" stroke="#000" stroke-width="2"/>
<line x1="481.5" y1="920.6" x2="481.5" y2="925" stroke="#000" stroke-width="2"/>
<rect x="81" y="557.1" width="417.3" height="367.9" fill="none" stroke="#000" stroke-width="2.8"/>
<rect x="78" y="892.5" width="6" height="7" fill="#fff"/>
<path d="M66.5,893.4 C70,889.5999999999999 76,890.3 81,892.8 S91,896.4 95.5,893.3" fill="none" stroke="#000" stroke-width="2.4"/>
<path d="M66.5,899.8000000000001 C70,896.0 76,896.7 81,899.2 S91,902.8000000000001 95.5,899.7" fill="none" stroke="#000" stroke-width="2.4"/>
<rect x="495.3" y="892.5" width="6" height="7" fill="#fff"/>
<path d="M483.8,893.4 C487.3,889.5999999999999 493.3,890.3 498.3,892.8 S508.3,896.4 512.8,893.3" fill="none" stroke="#000" stroke-width="2.4"/>
<path d="M483.8,899.8000000000001 C487.3,896.0 493.3,896.7 498.3,899.2 S508.3,902.8000000000001 512.8,899.7" fill="none" stroke="#000" stroke-width="2.4"/>
<text x="63" y="563.9" font-size="20" text-anchor="end">70</text>
<text x="63" y="625.2" font-size="20" text-anchor="end">60</text>
<text x="63" y="686.6" font-size="20" text-anchor="end">50</text>
<text x="63" y="747.9" font-size="20" text-anchor="end">40</text>
<text x="63" y="809.2" font-size="20" text-anchor="end">30</text>
<text x="63" y="870.5" font-size="20" text-anchor="end">20</text>
<text x="63" y="931.8" font-size="20" text-anchor="end">0</text>
<text x="80.9" y="956" font-size="20" text-anchor="middle">5</text>
<text x="164.4" y="956" font-size="20" text-anchor="middle">10</text>
<text x="247.8" y="956" font-size="20" text-anchor="middle">15</text>
<text x="331.2" y="956" font-size="20" text-anchor="middle">20</text>
<text x="414.7" y="956" font-size="20" text-anchor="middle">25</text>
<text x="498.2" y="956" font-size="20" text-anchor="middle">30</text>
<text x="185" y="985.9" font-size="24">HZO film thickness (nm)</text>
<text x="0" y="549.2" font-size="23">(b)</text>
<text transform="translate(30.8,746.8) rotate(-90)" font-size="24.5" text-anchor="middle">Relative ratio of O/T/C phases (%)</text>
<polyline points="164.4,667.5 247.8,738.0 331.2,777.9 414.7,832.5" fill="none" stroke="#000" stroke-width="3"/>
<polygon points="164.4,657.5 174.0,667.5 164.4,677.5 154.8,667.5" fill="#000"/>
<polygon points="247.8,728.0 257.40000000000003,738.0 247.8,748.0 238.20000000000002,738.0" fill="#000"/>
<polygon points="331.2,767.9 340.8,777.9 331.2,787.9 321.59999999999997,777.9" fill="#000"/>
<polygon points="414.7,822.5 424.3,832.5 414.7,842.5 405.09999999999997,832.5" fill="#000"/>
<polyline points="164.4,654.6 247.8,733.1 331.2,766.8 414.7,819.0" fill="none" stroke="#0000ff" stroke-width="3"/>
<polygon points="164.4,645.4 173.6,663.8000000000001 155.20000000000002,663.8000000000001" fill="#0000ff"/>
<polygon points="247.8,723.9 257.0,742.3000000000001 238.60000000000002,742.3000000000001" fill="#0000ff"/>
<polygon points="331.2,757.5999999999999 340.4,776.0 322.0,776.0" fill="#0000ff"/>
<polygon points="414.7,809.8 423.9,828.2 405.5,828.2" fill="#0000ff"/>
<polyline points="164.4,604.3 247.8,652.2 331.2,731.9 414.7,814.7" fill="none" stroke="#00b050" stroke-width="3"/>
<rect x="155.6" y="595.5" width="17.6" height="17.6" fill="#00b050"/>
<rect x="239.0" y="643.4000000000001" width="17.6" height="17.6" fill="#00b050"/>
<rect x="322.4" y="723.1" width="17.6" height="17.6" fill="#00b050"/>
<rect x="405.9" y="805.9000000000001" width="17.6" height="17.6" fill="#00b050"/>
<polyline points="164.4,593.9 247.8,649.1 331.2,730.1 414.7,806.1" fill="none" stroke="#ff0000" stroke-width="3"/>
<circle cx="164.4" cy="593.9" r="9.2" fill="#ff0000"/>
<circle cx="247.8" cy="649.1" r="9.2" fill="#ff0000"/>
<circle cx="331.2" cy="730.1" r="9.2" fill="#ff0000"/>
<circle cx="414.7" cy="806.1" r="9.2" fill="#ff0000"/>
<rect x="367.4" y="572.4" width="115.2" height="108.4" rx="7.5" fill="#fff" stroke="#000" stroke-width="2.5"/>
<line x1="376.3" y1="587.1" x2="401.8" y2="587.1" stroke="#000" stroke-width="3"/>
<polygon points="389,579.5 396.4,587.1 389,594.7 381.6,587.1" fill="#000"/>
<text x="408.6" y="593.8000000000001" font-size="20">w/o</text>
<line x1="376.3" y1="612.3" x2="401.8" y2="612.3" stroke="#0000ff" stroke-width="3"/>
<polygon points="389,604.6999999999999 396.6,619.5 381.4,619.5" fill="#0000ff"/>
<text x="408.6" y="619.0" font-size="20">B-ZrO<tspan font-size="13.5" dy="4.5">2</tspan></text>
<line x1="376.3" y1="637.3" x2="401.8" y2="637.3" stroke="#00b050" stroke-width="3"/>
<rect x="381.9" y="630.1999999999999" width="14.2" height="14.2" fill="#00b050"/>
<text x="408.6" y="644.0" font-size="20">T-ZrO<tspan font-size="13.5" dy="4.5">2</tspan></text>
<line x1="376.3" y1="662.5" x2="401.8" y2="662.5" stroke="#ff0000" stroke-width="3"/>
<circle cx="389" cy="662.5" r="7.4" fill="#ff0000"/>
<text x="408.6" y="669.2" font-size="20">D-ZrO<tspan font-size="13.5" dy="4.5">2</tspan></text>
</svg></body></html>
